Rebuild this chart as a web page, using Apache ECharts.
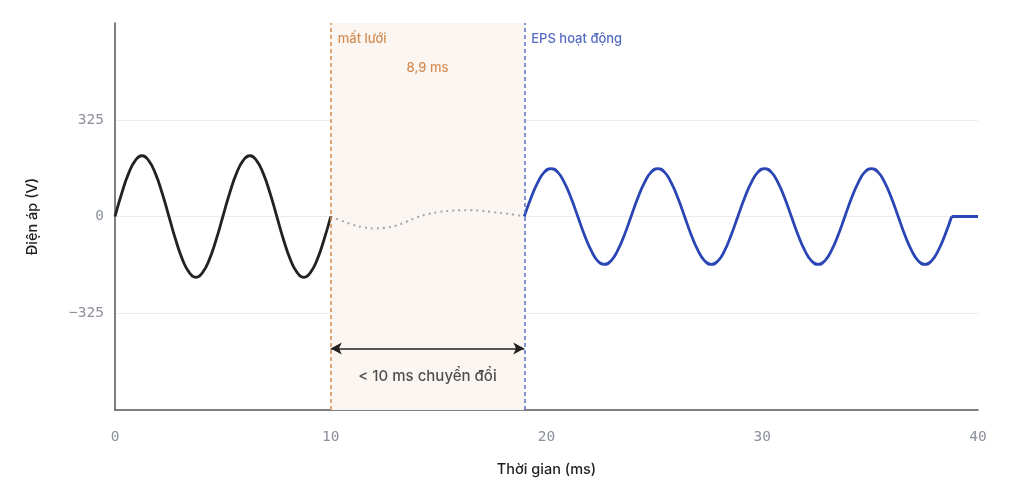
<!DOCTYPE html>
<html>
<head>
<meta charset="utf-8">
<script src="https://cdn.jsdelivr.net/npm/echarts@6/dist/echarts.min.js"></script>
<style>
html,body{margin:0;padding:0;background:#fff;}
#c{width:1009px;height:485px;}
</style>
</head>
<body>
<div id="c"></div>
<script>
// ---- data ----
const xTicks = [0, 10, 20, 30, 40];
const yTicks = [-650, -325, 0, 325, 650];
const gridT = [0,0.3125,0.625,0.9375,1.25,1.5625,1.875,2.1875,2.5,2.8125,3.125,3.4375,3.75,4.0625,4.375,4.6875,
  5,5.3125,5.625,5.9375,6.25,6.5625,6.875,7.1875,7.5,7.8125,8.125,8.4375,8.75,9.0625,9.375,9.6875,10];
const gridV = [0,78,144,188,204,188,144,78,0,-78,-144,-188,-204,-188,-144,-78,
  0,78,144,188,204,188,144,78,0,-78,-144,-188,-204,-188,-144,-78,0];
const gapT = [10,10.5,11,11.5,12,12.5,13,13.5,14,14.5,15,15.5,16,16.5,17,17.5,18,18.5,18.97];
const gapV = [0,-14,-27,-36,-40,-38,-31,-18,-3,8,15,19,21,21,19,15,11,6,0];
const epsT = [18.97,19.28,19.59,19.90,20.21,20.52,20.83,21.14,21.45,21.76,22.07,22.37,22.68,22.99,23.30,23.61,
  23.92,24.23,24.54,24.85,25.16,25.47,25.78,26.09,26.40,26.71,27.02,27.33,27.64,27.95,28.26,28.56,
  28.87,29.18,29.49,29.80,30.11,30.42,30.73,31.04,31.35,31.66,31.97,32.28,32.59,32.90,33.21,33.52,
  33.83,34.14,34.45,34.75,35.06,35.37,35.68,35.99,36.30,36.61,36.92,37.23,37.54,37.85,38.16,38.47,
  38.78];
const epsV = [0,62,114,149,161,149,114,62,0,-62,-114,-149,-161,-149,-114,-62,
  0,62,114,149,161,149,114,62,0,-62,-114,-149,-161,-149,-114,-62,
  0,62,114,149,161,149,114,62,0,-62,-114,-149,-161,-149,-114,-62,
  0,62,114,149,161,149,114,62,0,-62,-114,-149,-161,-149,-114,-62,
  0];
const flatT = [38.78, 40];
const flatV = [0, 0];
const lossT = 10;          // mất lưới
const epsStart = 18.97;    // EPS hoạt động
const gapLabel = '8,9 ms';
const arrowY = -443;
const arrowText = '< 10 ms chuyển đổi';
const arrowTextY = -536;
const topLabelY = 597;
const gapLabelY = 497;

const zip = (a, b) => a.map((t, i) => [t, b[i]]);
const SANS = 'Inter, "Noto Sans", sans-serif';
const MONO = '"DejaVu Sans Mono", monospace';
const ORANGE = '#c9732e';
const BLUE = '#2a45b4';

const chart = echarts.init(document.getElementById('c'), null, {renderer: 'canvas'});
chart.setOption({
  animation: false,
  backgroundColor: '#fff',
  grid: {left: 115, right: 31, top: 23, bottom: 75},
  xAxis: {
    type: 'value', min: xTicks[0], max: xTicks[xTicks.length - 1], interval: 10,
    name: 'Thời gian (ms)', nameLocation: 'middle', nameGap: 52,
    nameTextStyle: {fontFamily: SANS, fontSize: 14.5, fontWeight: 500, color: '#1f1f1f'},
    axisLine: {onZero: false, lineStyle: {color: '#555', width: 1.5}},
    axisTick: {show: false},
    splitLine: {show: false},
    axisLabel: {fontFamily: MONO, fontSize: 14.5, color: '#8b909a', margin: 20}
  },
  yAxis: {
    type: 'value', min: yTicks[0], max: yTicks[yTicks.length - 1], interval: 325,
    name: 'Điện áp (V)', nameLocation: 'middle', nameGap: 75, nameRotate: 90,
    nameTextStyle: {fontFamily: SANS, fontSize: 14.5, fontWeight: 500, color: '#1f1f1f'},
    axisLine: {show: true, lineStyle: {color: '#555', width: 1.5}},
    axisTick: {show: false},
    splitLine: {show: true, showMinLine: false, showMaxLine: false, lineStyle: {color: '#ececec', width: 1}},
    axisLabel: {
      fontFamily: MONO, fontSize: 14.5, color: '#8b909a', margin: 11, padding: [4, 0, 0, 0],
      formatter: v => (Math.abs(v) === 650 ? '' : (v < 0 ? '\u2212' + Math.abs(v) : String(v)))
    }
  },
  series: [
    {
      type: 'line', data: zip(gapT, gapV), smooth: 0.5, showSymbol: false, symbol: 'none',
      lineStyle: {color: '#a3a7ae', width: 2, type: [2, 4]}, z: 3,
      markArea: {
        silent: true,
        itemStyle: {color: '#fbf6f1'},
        data: [[{xAxis: lossT}, {xAxis: epsStart}]]
      }
    },
    {
      type: 'line', data: zip(gridT, gridV), smooth: 0.5, showSymbol: false, symbol: 'none',
      lineStyle: {color: '#222', width: 2.8}, z: 4
    },
    {
      type: 'line', data: zip(epsT, epsV), smooth: 0.5, showSymbol: false, symbol: 'none',
      lineStyle: {color: BLUE, width: 2.8}, z: 4
    },
    {
      type: 'line', data: zip(flatT, flatV), showSymbol: false, symbol: 'none',
      lineStyle: {color: BLUE, width: 2.8}, z: 4
    },
    {
      type: 'line', data: [], z: 5,
      markLine: {
        silent: true, symbol: 'none', label: {show: false},
        data: [
          {xAxis: lossT, lineStyle: {color: '#d98a48', type: [4, 3], width: 1.5}},
          {xAxis: epsStart, lineStyle: {color: '#5b6fd0', type: [4, 3], width: 1.5}}
        ]
      }
    },
    {
      type: 'line', data: [], z: 6,
      markLine: {
        silent: true, symbol: ['arrow', 'arrow'], symbolSize: [9, 11],
        label: {show: false},
        lineStyle: {color: '#222', type: 'solid', width: 1.5},
        data: [[{coord: [lossT, arrowY]}, {coord: [epsStart, arrowY]}]]
      }
    },
    {
      type: 'scatter', symbolSize: 0, silent: true, z: 7,
      data: [
        {value: [lossT, topLabelY], label: {formatter: 'mất lưới', color: ORANGE, align: 'left', offset: [7, 0]}},
        {value: [epsStart, topLabelY], label: {formatter: 'EPS hoạt động', color: BLUE, align: 'left', offset: [7, 0]}},
        {value: [(lossT + epsStart) / 2, gapLabelY], label: {formatter: gapLabel, color: ORANGE, align: 'center'}},
        {value: [(lossT + epsStart) / 2, arrowTextY], label: {formatter: arrowText, color: '#262626', align: 'center', fontSize: 15}}
      ],
      label: {show: true, position: 'inside', verticalAlign: 'middle', fontFamily: SANS, fontSize: 13, fontWeight: 500}
    }
  ]
});
</script>
</body>
</html>
